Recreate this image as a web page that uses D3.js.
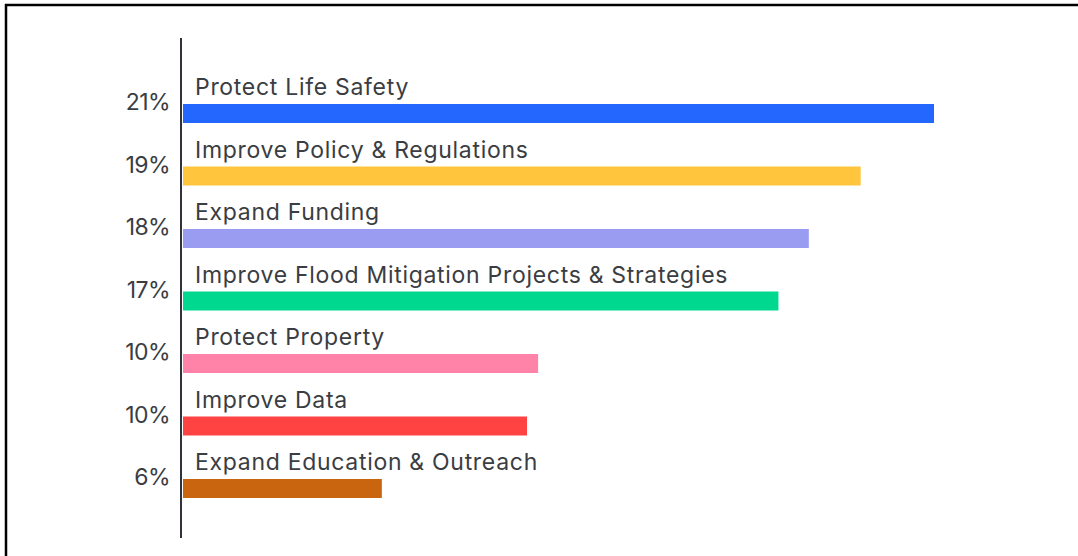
<!DOCTYPE html>
<meta charset="utf-8">
<script src="https://d3js.org/d3.v7.min.js"></script>
<style>
  body { margin: 0; background: #fff; }
  text { font-family: Inter, "Noto Sans", sans-serif; fill: #3a3d42; }
</style>
<body>
<div id="chart"></div>
<script>
  var categories = ["Protect Life Safety", "Improve Policy & Regulations", "Expand Funding",
    "Improve Flood Mitigation Projects & Strategies", "Protect Property", "Improve Data",
    "Expand Education & Outreach"];
  var values = [21.0, 18.95, 17.5, 16.65, 9.93, 9.62, 5.56];
  var labels = ["21%", "19%", "18%", "17%", "10%", "10%", "6%"];
  var colors = ["#2367ff", "#ffc53d", "#9a9cf2", "#00d890", "#ff82a9", "#ff4242", "#c9650e"];

  var width = 1078, height = 556;

  var svg = d3.select("#chart").append("svg")
      .attr("width", width)
      .attr("height", height);

  // frame
  svg.append("rect")
      .attr("x", 6).attr("y", 5)
      .attr("width", 1100).attr("height", 600)
      .attr("fill", "none")
      .attr("stroke", "#000")
      .attr("stroke-width", 2.5);

  var x = d3.scaleLinear().domain([0, 21]).range([183, 934]);
  var y = d3.scaleBand().domain(categories).range([104, 498]).paddingInner(0.696);

  var rows = categories.map(function(c, i) {
    return {cat: c, value: values[i], label: labels[i], color: colors[i]};
  });

  var g = svg.selectAll("g.row").data(rows).enter().append("g").attr("class", "row");

  g.append("rect")
      .attr("x", x(0))
      .attr("y", function(d) { return y(d.cat); })
      .attr("width", function(d) { return x(d.value) - x(0); })
      .attr("height", y.bandwidth())
      .attr("fill", function(d) { return d.color; });

  g.append("text")
      .attr("x", 195)
      .attr("y", function(d) { return y(d.cat) - 9; })
      .attr("font-size", 23)
      .attr("letter-spacing", 0.7)
      .text(function(d) { return d.cat; });

  g.append("text")
      .attr("x", 170)
      .attr("y", function(d) { return y(d.cat) + 6; })
      .attr("text-anchor", "end")
      .attr("font-size", 23)
      .attr("letter-spacing", -0.6)
      .text(function(d) { return d.label; });

  // axis line
  svg.append("line")
      .attr("x1", 181).attr("x2", 181)
      .attr("y1", 38).attr("y2", 538)
      .attr("stroke", "#2f3238")
      .attr("stroke-width", 2);
</script>
</body>
